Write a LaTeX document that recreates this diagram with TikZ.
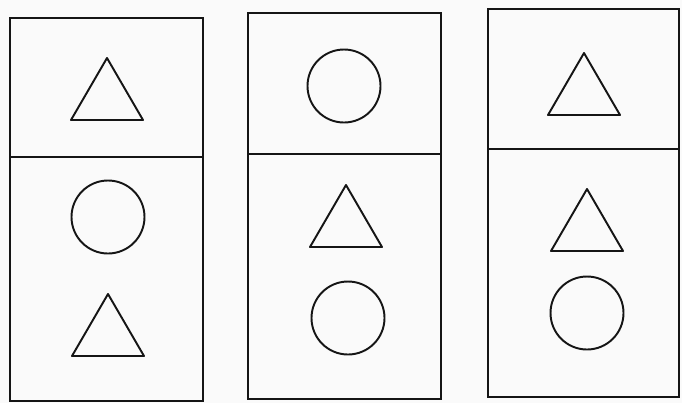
\documentclass[tikz,border=0pt]{standalone}
\usepackage{tikz}
\definecolor{cdInk}{HTML}{151515}
\definecolor{cdPaper}{HTML}{FAFAFA}

\begin{document}
\begin{tikzpicture}[
  x=0.02cm,y=-0.02cm,
  card/.style={draw=cdInk,line width=1pt},
  figure/.style={draw=cdInk,line width=1.1pt,line join=round}
]
\useasboundingbox[fill=cdPaper] (0,0) rectangle (682,403);
% three cards, each split in a top and a bottom field
\foreach \xl/\xr/\yt/\ym/\yb/\n in {10/203/18/157/401/1,248/441/13/154/399/2,488/679/9/149/397/3}{
  \draw[card] (\xl,\yt) rectangle (\xr,\yb);
  \draw[card] (\xl,\ym) coordinate (mid\n w) -- (\xr,\ym) coordinate (mid\n e);
}
% triangles: apex x / base y
\foreach \cx/\by in {107/120,108/356,346/247,584/115,587/251}{
  \draw[figure] (\cx-36,\by) -- (\cx,\by-62) -- (\cx+36,\by) -- cycle;
}
% circles: centre x / centre y
\foreach \cx/\cy in {108/217,344/86,348/318,587/313}{
  \draw[figure] (\cx,\cy) circle[radius=36.5];
}
\end{tikzpicture}
\end{document}
